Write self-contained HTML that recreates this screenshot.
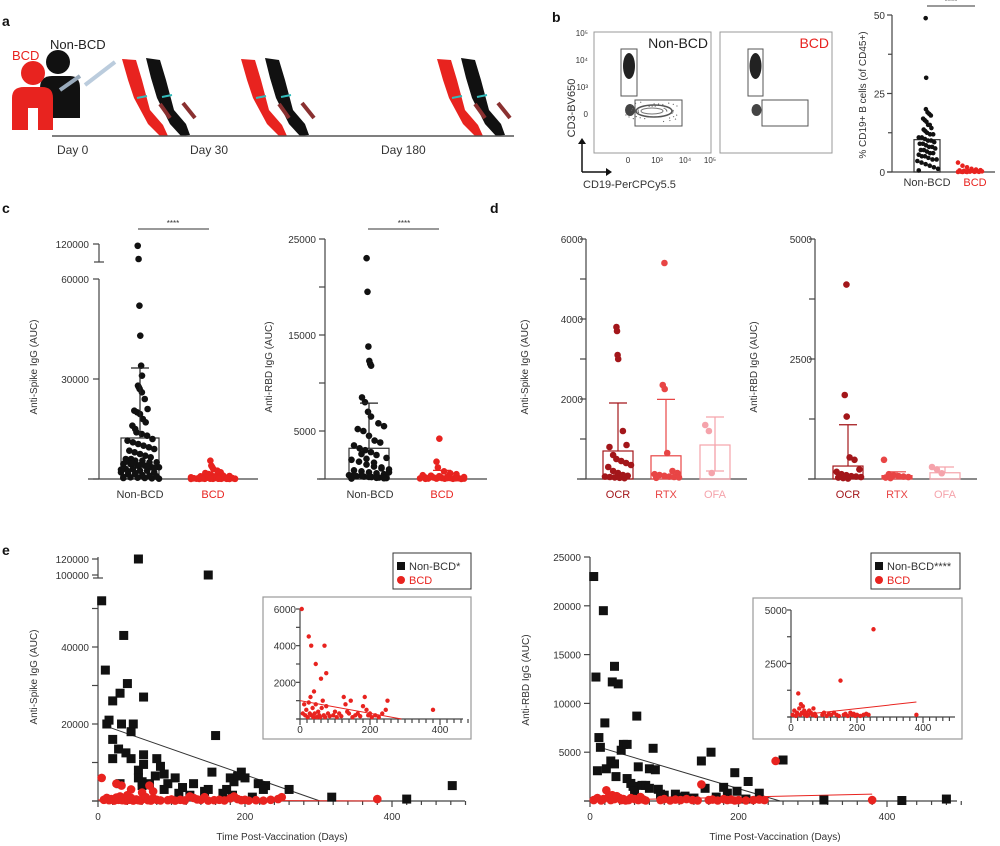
<!DOCTYPE html>
<html><head><meta charset="utf-8"><style>
html,body{margin:0;padding:0;background:#fff;}
svg{display:block;font-family:"Liberation Sans",Arial,sans-serif;}
</style></head><body>
<svg id="fig" width="1000" height="846" viewBox="0 0 1000 846" xmlns="http://www.w3.org/2000/svg"></svg>
<script>
// ---------- DATA ----------
const bNonBCD = [49,30,20,19,18.5,18,17,16.5,16,15,15,14,13.5,13,12.5,12,12,11,11,10.5,10,10,9.5,9,9,8.5,8,8,7.5,7,7,6.5,6,6,5.5,5,5,4.5,4,4,3.5,3,2.5,2,1.5,1,0.5];
const bBCD = [3,2,1.5,1,0.8,0.6,0.5,0.4,0.3,0.3,0.2,0.2,0.1,0.1,0.1,0.05,0.05,0,0,0];
const bBars = [10.3, 0.5];
const cSpikeNon = [118000,103000,52000,43000,34000,31000,28000,27500,27000,26000,24000,21000,20500,20000,19500,18000,17000,16000,15000,14000,13500,13000,12000,11500,11000,10500,10000,9500,9000,8500,8000,7500,7000,6500,6000,6000,5500,5500,5000,5000,4500,4500,4000,4000,3500,3500,3000,3000,2500,2500,2000,2000,1500,1500,1000,1000,800,600,500,400,300,200,100,5200,4800,4200,3800,3300,2800,2300,1800,1200,900,700,300];
const cSpikeBCD = [5500,4000,3500,3000,2500,2000,1800,1500,1300,1200,1000,900,800,700,600,600,500,500,400,400,300,300,250,200,200,150,150,100,100,100,50,50,50,30,20,10,700,500,400,300,200,150,100,80,60,40];
const cSpikeBar = [12300, 600]; const cSpikeErr = [33300, 1500];
const cRbdNon = [23000,19500,13800,12300,12000,11800,8500,8000,7000,6500,5800,5500,5200,5000,4500,4000,3800,3500,3200,3000,2800,2500,2200,2000,1800,1500,1300,1200,1000,900,800,700,600,500,400,300,250,200,150,100,50,2600,2100,1700,1100,700,450,350,220,120,80];
const cRbdBCD = [4200,1800,1200,800,600,500,400,350,300,250,200,200,150,150,100,100,80,60,50,40,30,20,10,300,200,150,100,70,40,20];
const cRbdBar = [3200, 300]; const cRbdErr = [7900, 900];
const dGroups = ["OCR","RTX","OFA"];
const dSpikeVals = [[3800,3700,3100,3000,1200,850,800,600,500,450,400,350,300,200,150,100,80,60,50,40,30,20],[5400,2350,2250,650,200,150,120,100,80,60,50,40,30],[1350,1200,150]];
const dSpikeBar = [700,580,850]; const dSpikeErr = [1900,1990,1550]; const dSpikeErrLow = [0,0,200];
const dRbdVals = [[4050,1750,1300,450,400,200,150,100,80,60,50,40,30,20,10],[400,100,80,60,50,40,30,20],[250,200,120]];
const dRbdBar = [270,70,130]; const dRbdErr = [1130,150,250];
const eSpikeNonDay = [5,55,150,10,35,40,30,62,20,15,12,32,48,45,160,20,28,38,20,45,62,80,55,62,85,78,90,55,60,70,95,105,115,130,150,155,145,175,180,185,190,195,200,170,183,210,218,228,225,260,318,420,482,60,90,30,110,125];
const eSpikeNonVal = [52000,120000,100000,34000,43000,30500,28000,27000,26000,21000,20000,20000,20000,18000,17000,16000,13500,12500,11000,11000,12000,11000,8000,9500,9000,6500,7000,6000,5000,4500,4500,6000,3500,4500,3000,7500,2500,3000,6000,5000,6500,7500,6000,2000,1500,1000,4500,4000,3000,3000,1000,500,4000,4000,3000,4500,2000,1500];
const eSpikeBcdDay = [5,25,32,45,70,75,60,380,8,12,15,18,22,25,28,30,33,36,38,40,42,45,48,52,55,58,62,65,68,72,75,80,85,95,100,105,112,118,125,130,135,140,145,150,158,165,172,180,185,190,195,200,205,215,225,235,245,250];
const eSpikeBcdVal = [6000,4500,4000,3000,4000,2500,2200,500,300,800,200,500,100,900,300,1200,200,600,100,1500,300,800,100,400,200,100,600,1000,200,100,700,300,150,200,400,100,300,150,1200,800,400,300,1000,100,200,300,150,700,1200,500,200,300,100,200,100,300,500,1000];
const eRbdNonDay = [5,8,12,14,18,20,10,22,28,33,33,30,38,35,42,45,50,50,55,58,60,63,65,70,75,80,80,85,88,92,95,100,115,120,128,140,150,155,163,170,180,185,195,198,210,213,228,260,315,420,480];
const eRbdNonVal = [23000,12700,6500,5500,19500,8000,3100,3300,4100,3800,13800,12200,12000,2500,5200,5800,5800,2300,1800,1500,1000,8700,3500,1600,1600,1300,3300,5400,3200,1200,700,600,700,400,500,300,4100,1300,5000,400,1400,800,2900,1000,200,2000,800,4200,100,50,200];
const eRbdBcdDay = [22,150,250,380,5,10,15,18,25,28,30,33,36,40,42,45,48,52,55,60,65,68,72,75,95,100,108,115,122,130,138,145,160,165,172,180,185,190,195,200,210,220,228,235];
const eRbdBcdVal = [1100,1700,4100,100,100,300,50,200,400,100,600,200,500,300,100,200,50,100,300,200,100,400,150,50,100,200,50,150,100,200,100,50,100,150,50,200,100,150,50,100,50,100,150,100];
const eSpikeFitNon = [[10,19500],[302,0]]; const eSpikeFitBcd = [[0,1000],[290,0]];
const eRbdFitNon = [[13,5500],[256,0]]; const eRbdFitBcd = [[0,50],[380,700]];

// ---------- HELPERS ----------
const NS="http://www.w3.org/2000/svg"; const svg=document.getElementById('fig');
function mk(tag,a,p){const e=document.createElementNS(NS,tag);for(const k in a)e.setAttribute(k,a[k]);(p||svg).appendChild(e);return e;}
function nm(e,n,i){


return e;}
function txt(x,y,s,o,n){o=o||{};const e=mk('text',{x:x,y:y,'font-size':o.fs||10,fill:o.fill||'#333','text-anchor':o.anchor||'middle','font-weight':o.fw||'normal'});if(o.rot)e.setAttribute('transform','rotate(-90 '+x+' '+y+')');e.textContent=s;nm(e,n||'label');return e;}
function line(x1,y1,x2,y2,o,n){o=o||{};return nm(mk('line',{x1:x1,y1:y1,x2:x2,y2:y2,stroke:o.c||'#444','stroke-width':o.w||1.2}),n||'axis-line');}
function lin(d0,d1,r0,r1){return v=>r0+(v-d0)*(r1-r0)/(d1-d0);}
function dot(x,y,r,c,n){return nm(mk('circle',{cx:x,cy:y,r:r,fill:c}),n||'point');}
function sq(x,y,s,c,n){return nm(mk('rect',{x:x-s/2,y:y-s/2,width:s,height:s,fill:c}),n||'point');}
function jit(i,v,max,w){const k=((i*37)%17)/16-0.5;const f=v<max*0.1?1:(v<max*0.25?0.75:(v<max*0.45?0.4:0.12));return k*w*f*2;}
function swarm(vals,cx,sc,w,r,c,n,max){vals.forEach((v,i)=>{dot(cx+jit(i,v,max,w),sc(v),r,c,n);});}
function bar(cx,hw,sc,v,c,n){return nm(mk('rect',{x:cx-hw,y:sc(v),width:hw*2,height:sc(0)-sc(v),fill:'none',stroke:c,'stroke-width':1.2}),n);}
function err(cx,sc,lo,hi,c,n){line(cx,sc(lo),cx,sc(hi),{c:c},n);line(cx-9,sc(hi),cx+9,sc(hi),{c:c},n+'-cap');}
const RED='#e8231f';

// ---------- PANEL LETTERS ----------
txt(2,26,'a',{fs:14,fw:'bold',anchor:'start',fill:'#111'},'panel-a-letter');
txt(552,22,'b',{fs:14,fw:'bold',anchor:'start',fill:'#111'},'panel-b-letter');
txt(2,213,'c',{fs:14,fw:'bold',anchor:'start',fill:'#111'},'panel-c-letter');
txt(490,213,'d',{fs:14,fw:'bold',anchor:'start',fill:'#111'},'panel-d-letter');
txt(2,555,'e',{fs:14,fw:'bold',anchor:'start',fill:'#111'},'panel-e-letter');

// ---------- PANEL A ----------
txt(12,60,'BCD',{fs:13,fill:RED,anchor:'start'},'bcd-label');
txt(50,49,'Non-BCD',{fs:13,fill:'#222',anchor:'start'},'non-bcd-label');
nm(mk('circle',{cx:58,cy:62,r:12,fill:'#111'}),'non-bcd-person-head');
nm(mk('path',{d:'M40 118 V88 Q40 76 52 76 H70 Q80 76 80 88 V118 Z',fill:'#111'}),'non-bcd-person-body');
nm(mk('circle',{cx:33,cy:73,r:12,fill:RED}),'bcd-person-head');
nm(mk('path',{d:'M12 130 V98 Q12 87 24 87 H42 Q53 87 53 98 V130 H38 V108 H28 V130 Z',fill:RED}),'bcd-person-body');
line(60,90,80,76,{c:'#9ab',w:4},'syringe-1');line(85,85,115,62,{c:'#bcd',w:4},'syringe-2');
[0,119,315].forEach((o,k)=>{
 nm(mk('path',{d:`M${122+o} 59 L${136+o} 60 L${142+o} 80 L${150+o} 110 L${163+o} 125 L${168+o} 136 L${160+o} 136 L${148+o} 124 L${134+o} 98 L${128+o} 80 Z`,fill:RED}),'bcd-arm');
 nm(mk('path',{d:`M${146+o} 58 L${160+o} 60 L${166+o} 80 L${174+o} 110 L${186+o} 124 L${190+o} 135 L${181+o} 136 L${170+o} 124 L${157+o} 98 L${151+o} 78 Z`,fill:'#111'}),'non-bcd-arm');
 line(137+o,98,147+o,96,{c:'#3bb',w:2},'tourniquet');line(162+o,97,172+o,95,{c:'#3bb',w:2},'tourniquet');
 line(160+o,104,170+o,118,{c:'#8a3030',w:4},'blood-tube');line(183+o,103,195+o,118,{c:'#8a3030',w:4},'blood-tube');
});
line(52,136,514,136,{c:'#555',w:1.5},'timeline');
txt(57,154,'Day 0',{fs:12,anchor:'start'},'day-0-label');
txt(190,154,'Day 30',{fs:12,anchor:'start'},'day-30-label');
txt(381,154,'Day 180',{fs:12,anchor:'start'},'day-180-label');

// ---------- PANEL B FLOW ----------
[[594,711,'Non-BCD','#222',621,637,635,682,true],[720,832,'BCD',RED,748,763,762,808,false]].forEach(p=>{
 nm(mk('rect',{x:p[0],y:32,width:p[1]-p[0],height:121,fill:'none',stroke:'#999','stroke-width':1}),'flow-plot-frame');
 txt(p[1]-3,48,p[2],{fs:14,fill:p[3],anchor:'end'},'flow-plot-title');
 nm(mk('ellipse',{cx:(p[4]+p[5])/2,cy:66,rx:6,ry:13,fill:'#222'}),'t-cell-population');
 nm(mk('ellipse',{cx:(p[4]+p[5])/2+1,cy:110,rx:5,ry:6,fill:'#444'}),'double-negative-population');
 nm(mk('rect',{x:p[4],y:49,width:p[5]-p[4],height:47,fill:'none',stroke:'#555'}),'t-cell-gate');
 nm(mk('rect',{x:p[6],y:100,width:p[7]-p[6],height:26,fill:'none',stroke:'#555'}),'b-cell-gate');
 if(p[8]){
  nm(mk('ellipse',{cx:654,cy:111,rx:18,ry:6,fill:'none',stroke:'#555','stroke-width':1.5}),'b-cell-population');
  nm(mk('ellipse',{cx:652,cy:111,rx:11,ry:3,fill:'none',stroke:'#777'}),'b-cell-population-core');
  for(let i=0;i<40;i++){const a=i*2.4,r=8+(i*7%13);const c=mk('circle',{cx:654+Math.cos(a)*r*1.6,cy:111+Math.sin(a)*r*0.55,r:0.6,fill:'#666'});nm(c,'flow-event');}
 }
});
[['10⁵',36],['10⁴',63],['10³',90],['0',117]].forEach(t=>txt(588,t[1],t[0],{fs:8,anchor:'end'},'flow-y-tick'));
[['0',628],['10³',657],['10⁴',685],['10⁵',710]].forEach(t=>txt(t[1],163,t[0],{fs:8},'flow-x-tick'));
line(582,172,582,140,{c:'#111',w:1.5},'cd3-arrow');line(582,172,610,172,{c:'#111',w:1.5},'cd19-arrow');
nm(mk('path',{d:'M578 144 L582 138 L586 144 Z',fill:'#111'}),'arrowhead');nm(mk('path',{d:'M606 168 L612 172 L606 176 Z',fill:'#111'}),'arrowhead');
txt(575,108,'CD3-BV650',{fs:11,rot:true},'flow-y-axis-title');
txt(583,188,'CD19-PerCPCy5.5',{fs:11,anchor:'start'},'flow-x-axis-title');

// ---------- PANEL B BAR ----------
{const sc=lin(0,50,172,15);
 line(892,15,892,172,{},'b-y-axis');line(887,172,995,172,{},'b-x-axis');
 [0,25,50].forEach(v=>{line(887,sc(v),892,sc(v),{},'b-y-tick');txt(885,sc(v)+4,String(v),{fs:10,anchor:'end'},'b-y-tick-label');});
 [12.5,37.5].forEach(v=>line(888,sc(v),892,sc(v),{},'b-y-minor-tick'));
 txt(866,95,'% CD19+ B cells (of CD45+)',{fs:10,rot:true},'b-y-axis-title');
 bar(927,13,sc,bBars[0],'#333','b-bar-non-bcd');bar(970,13,sc,bBars[1],RED,'b-bar-bcd');
 swarm(bNonBCD,927,sc,11,2.3,'#111','b-point-non-bcd',50);swarm(bBCD,970,sc,12,2.3,RED,'b-point-bcd',50);
 txt(927,186,'Non-BCD',{fs:11},'b-x-label-non-bcd');txt(975,186,'BCD',{fs:11,fill:RED},'b-x-label-bcd');
 line(927,6,975,6,{c:'#333',w:1},'b-significance-bar');txt(951,4,'****',{fs:8},'b-significance');}

// ---------- PANEL C ----------
{const sc=v=>v<=60000?479-v/60000*200:244+(120000-v)*(15/17000);
 line(99,279,99,479,{},'c1-y-axis');line(99,244,99,262,{},'c1-y-axis-top');line(94,262,104,262,{},'c1-axis-break');
 line(88,479,258,479,{},'c1-x-axis');
 [[0,''],[30000,'30000'],[60000,'60000'],[120000,'120000']].forEach(t=>{line(93,sc(t[0]),99,sc(t[0]),{},'c1-y-tick');if(t[1])txt(89,sc(t[0])+4,t[1],{fs:10,anchor:'end'},'c1-y-tick-label');});
 txt(37,367,'Anti-Spike IgG (AUC)',{fs:10,rot:true},'c1-y-axis-title');
 bar(140,19,sc,cSpikeBar[0],'#333','c1-bar-non-bcd');bar(213,19,sc,cSpikeBar[1],RED,'c1-bar-bcd');
 swarm(cSpikeNon,140,sc,19,3.3,'#111','c1-point-non-bcd',60000);swarm(cSpikeBCD,213,sc,22,3.3,RED,'c1-point-bcd',6000);
 err(140,sc,cSpikeBar[0],cSpikeErr[0],'#222','c1-error-non-bcd');err(213,sc,cSpikeBar[1],cSpikeErr[1],RED,'c1-error-bcd');
 txt(140,498,'Non-BCD',{fs:11},'c1-x-label-non-bcd');txt(213,498,'BCD',{fs:11,fill:RED},'c1-x-label-bcd');
 line(138,229,209,229,{c:'#333',w:1},'c1-significance-bar');txt(173,226,'****',{fs:8},'c1-significance');}
{const sc=lin(0,25000,479,239);
 line(325,239,325,479,{},'c2-y-axis');line(317,479,487,479,{},'c2-x-axis');
 [0,5000,10000,15000,20000,25000].forEach(v=>{line(319,sc(v),325,sc(v),{},'c2-y-tick');if(v%10000==5000)txt(316,sc(v)+4,String(v),{fs:10,anchor:'end'},'c2-y-tick-label');});
 txt(272,367,'Anti-RBD IgG (AUC)',{fs:10,rot:true},'c2-y-axis-title');
 bar(369,20,sc,cRbdBar[0],'#333','c2-bar-non-bcd');bar(442,20,sc,cRbdBar[1],RED,'c2-bar-bcd');
 swarm(cRbdNon,369,sc,20,3.3,'#111','c2-point-non-bcd',25000);swarm(cRbdBCD,442,sc,22,3.3,RED,'c2-point-bcd',5000);
 err(369,sc,cRbdBar[0],cRbdErr[0],'#222','c2-error-non-bcd');err(442,sc,cRbdBar[1],cRbdErr[1],RED,'c2-error-bcd');
 txt(370,498,'Non-BCD',{fs:11},'c2-x-label-non-bcd');txt(442,498,'BCD',{fs:11,fill:RED},'c2-x-label-bcd');
 line(368,229,439,229,{c:'#333',w:1},'c2-significance-bar');txt(404,226,'****',{fs:8},'c2-significance');}

// ---------- PANEL D ----------
const dCol=['#a3161a','#e84545','#f5a3ab'];
function panelD(ax,x0,x1,max,ticks,labels,cxs,vals,bars,errs,lows,pfx,title){
 const sc=lin(0,max,479,239);
 line(ax,239,ax,479,{},pfx+'-y-axis');line(x0,479,x1,479,{},pfx+'-x-axis');
 ticks.forEach((v,i)=>{line(ax-6,sc(v),ax,sc(v),{},pfx+'-y-tick');if(labels[i])txt(ax-3,sc(v)+4,labels[i],{fs:10,anchor:'end'},pfx+'-y-tick-label');});
 txt(ax-58,367,title,{fs:10,rot:true},pfx+'-y-axis-title');
 dGroups.forEach((g,k)=>{const cx=cxs[k];
  bar(cx,15,sc,bars[k],dCol[k],pfx+'-bar-'+g.toLowerCase());
  swarm(vals[k],cx,sc,13,3.3,dCol[k],pfx+'-point-'+g.toLowerCase(),max);
  err(cx,sc,lows[k]||bars[k],errs[k],dCol[k],pfx+'-error-'+g.toLowerCase());
  if(lows[k]){line(cx,sc(bars[k]),cx,sc(lows[k]),{c:dCol[k]},'error-low');line(cx-9,sc(lows[k]),cx+9,sc(lows[k]),{c:dCol[k]},'error-low-cap');}
  txt(cx,498,g,{fs:11,fill:dCol[k]},pfx+'-x-label-'+g.toLowerCase());});}
panelD(586,577,747,6000,[0,1000,2000,3000,4000,5000,6000],['','', '2000','','4000','','6000'],[618,666,715],dSpikeVals,dSpikeBar,dSpikeErr,dSpikeErrLow,'d1','Anti-Spike IgG (AUC)');
panelD(815,808,977,5000,[0,1250,2500,3750,5000],['','','2500','','5000'],[848,897,945],dRbdVals,dRbdBar,dRbdErr,[0,0,0],'d2','Anti-RBD IgG (AUC)');

// ---------- PANEL E ----------
function xAxisE(sx,y,x0,x1,max,step,lab,fs,pfx){
 line(x0,y,x1,y,{},pfx+'-x-axis');
 for(let d=0;d<=max;d+=step){const big=d%200==0;line(sx(d),y,sx(d),y+(big?6:4),{},pfx+'-x-tick');if(big)txt(sx(d),y+(lab?19:14),String(d),{fs:fs},pfx+'-x-tick-label');}}
function legendE(x0,x1,t,pfx){
 nm(mk('rect',{x:x0,y:553,width:x1-x0,height:36,fill:'#fff',stroke:'#333','stroke-width':1}),pfx+'-legend-box');
 sq(x0+8,566,8,'#111',pfx+'-legend-marker-non-bcd');txt(x0+16,570,t,{fs:11,anchor:'start'},pfx+'-legend-entry-non-bcd');
 dot(x0+8,580,4,RED,pfx+'-legend-marker-bcd');txt(x0+16,584,'BCD',{fs:11,anchor:'start',fill:RED},pfx+'-legend-entry-bcd');}
// e left
{const sx=lin(0,400,98,392);const sc=v=>v<=55000?801-v*0.00385:575-(v-100000)*0.0008;
 line(98,597,98,801,{},'e1-y-axis');line(98,557,98,578,{},'e1-y-axis-top');line(93,578,103,578,{},'e1-axis-break');
 for(let v=0;v<=50000;v+=10000){line(92,sc(v),98,sc(v),{},'e1-y-tick');if(v==20000||v==40000)txt(89,sc(v)+4,String(v),{fs:10,anchor:'end'},'e1-y-tick-label');}
 [100000,120000].forEach(v=>{line(92,sc(v),98,sc(v),{},'e1-y-tick');txt(89,sc(v)+4,String(v),{fs:10,anchor:'end'},'e1-y-tick-label');});
 xAxisE(sx,801,92,465,500,20,true,10,'e1');
 txt(37,677,'Anti-Spike IgG (AUC)',{fs:10,rot:true},'e1-y-axis-title');
 txt(282,840,'Time Post-Vaccination (Days)',{fs:10},'e1-x-axis-title');
 line(sx(eSpikeFitNon[0][0]),sc(eSpikeFitNon[0][1]),sx(eSpikeFitNon[1][0]),sc(eSpikeFitNon[1][1]),{c:'#333',w:1},'e1-fit-non-bcd');
 line(sx(0),sc(300),sx(380),sc(0),{c:RED,w:1},'e1-fit-bcd');
 eSpikeNonDay.forEach((d,i)=>sq(sx(d),sc(eSpikeNonVal[i]),9,'#111','e1-point-non-bcd'));
 eSpikeBcdDay.forEach((d,i)=>dot(sx(d),sc(eSpikeBcdVal[i]),4.3,RED,'e1-point-bcd'));
 legendE(393,471,'Non-BCD*','e1');
 nm(mk('rect',{x:263,y:597,width:208,height:142,fill:'#fff',stroke:'#999','stroke-width':1.2}),'e1-inset-frame');
 const ix=lin(0,400,300,440),iy=lin(0,6000,719,609);
 line(300,609,300,719,{},'e1-inset-y-axis');
 for(let v=0;v<=6000;v+=1000){line(296,iy(v),300,iy(v),{},'e1-inset-y-tick');if(v%2000==0&&v>0)txt(296,iy(v)+4,String(v),{fs:10,anchor:'end'},'e1-inset-y-tick-label');}
 xAxisE(ix,719,297,463,480,20,false,10,'e1-inset');
 line(ix(eSpikeFitBcd[0][0]),iy(eSpikeFitBcd[0][1]),ix(eSpikeFitBcd[1][0]),iy(eSpikeFitBcd[1][1]),{c:RED,w:1},'e1-inset-fit-bcd');
 eSpikeBcdDay.forEach((d,i)=>{const v=eSpikeBcdVal[i];if(v<=6000)dot(ix(d),iy(v),2.2,RED,'e1-inset-point-bcd');});}
// e right
{const sx=lin(0,400,590,887);const sc=lin(0,25000,801,557);
 line(590,557,590,801,{},'e2-y-axis');
 for(let v=0;v<=25000;v+=5000){line(584,sc(v),590,sc(v),{},'e2-y-tick');if(v>0)txt(581,sc(v)+4,String(v),{fs:10,anchor:'end'},'e2-y-tick-label');}
 xAxisE(sx,801,584,957,500,20,true,10,'e2');
 txt(529,680,'Anti-RBD IgG (AUC)',{fs:10,rot:true},'e2-y-axis-title');
 txt(775,840,'Time Post-Vaccination (Days)',{fs:10},'e2-x-axis-title');
 line(sx(eRbdFitNon[0][0]),sc(eRbdFitNon[0][1]),sx(eRbdFitNon[1][0]),sc(eRbdFitNon[1][1]),{c:'#333',w:1},'e2-fit-non-bcd');
 line(sx(eRbdFitBcd[0][0]),sc(eRbdFitBcd[0][1]),sx(eRbdFitBcd[1][0]),sc(eRbdFitBcd[1][1]),{c:RED,w:1},'e2-fit-bcd');
 eRbdNonDay.forEach((d,i)=>sq(sx(d),sc(eRbdNonVal[i]),9,'#111','e2-point-non-bcd'));
 eRbdBcdDay.forEach((d,i)=>dot(sx(d),sc(eRbdBcdVal[i]),4.3,RED,'e2-point-bcd'));
 legendE(871,960,'Non-BCD****','e2');
 nm(mk('rect',{x:753,y:598,width:209,height:141,fill:'#fff',stroke:'#999','stroke-width':1.2}),'e2-inset-frame');
 const ix=lin(0,400,791,923),iy=lin(0,5000,717,610);
 line(791,610,791,717,{},'e2-inset-y-axis');
 for(let v=0;v<=5000;v+=1250){line(787,iy(v),791,iy(v),{},'e2-inset-y-tick');if(v%2500==0&&v>0)txt(787,iy(v)+4,String(v),{fs:10,anchor:'end'},'e2-inset-y-tick-label');}
 xAxisE(ix,717,788,955,490,20,false,10,'e2-inset');
 line(ix(eRbdFitBcd[0][0]),iy(eRbdFitBcd[0][1]),ix(eRbdFitBcd[1][0]),iy(eRbdFitBcd[1][1]),{c:RED,w:1},'e2-inset-fit-bcd');
 eRbdBcdDay.forEach((d,i)=>dot(ix(d),iy(eRbdBcdVal[i]),2.2,RED,'e2-inset-point-bcd'));}
</script>
</body></html>
